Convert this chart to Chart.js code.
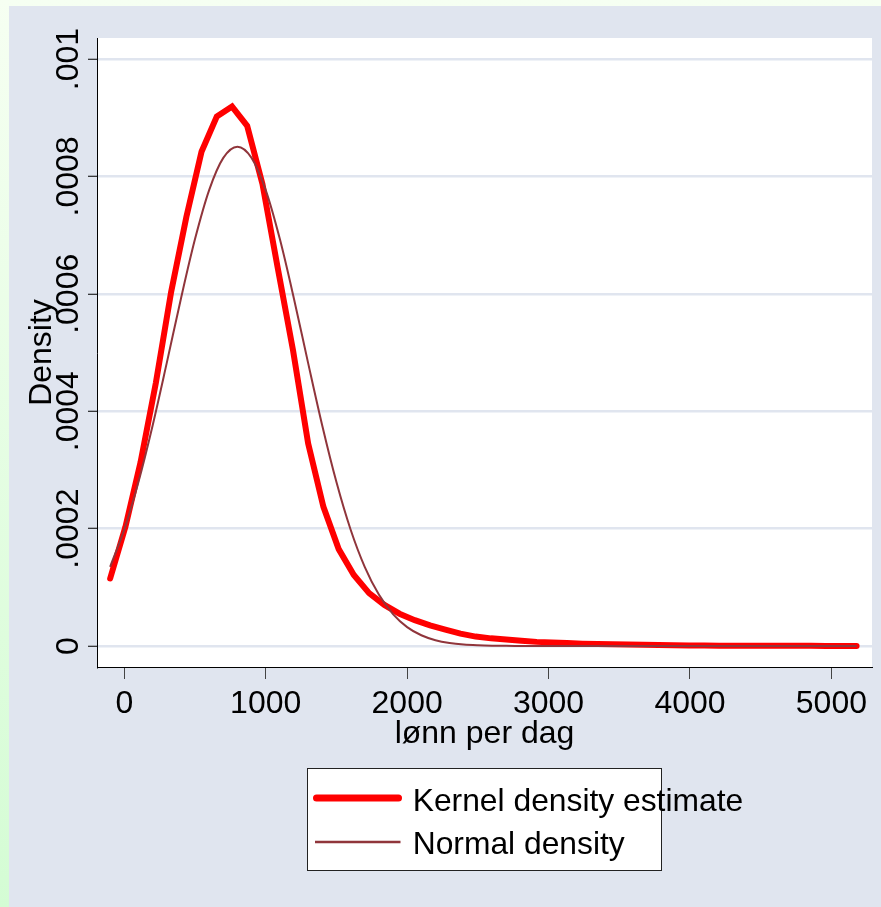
<!DOCTYPE html>
<html>
<head>
<meta charset="utf-8">
<script src="https://cdn.jsdelivr.net/npm/chart.js@4.4.1/dist/chart.umd.min.js"></script>
<style>html,body{margin:0;padding:0;background:#fff;}canvas{display:block;}</style>
</head>
<body>
<canvas id="c" width="881" height="907" style="width:881px;height:907px"></canvas>
<script>
// ---- data ----
const kdeX = [-100, 8, 115, 223, 331, 439, 546, 654, 762, 869,
  977, 1085, 1193, 1300, 1408, 1516, 1623, 1731, 1839, 1946,
  2054, 2162, 2270, 2377, 2485, 2593, 2700, 2808, 2916, 3024,
  3131, 3239, 3347, 3454, 3562, 3670, 3778, 3885, 3993, 4101,
  4208, 4316, 4424, 4532, 4639, 4747, 4855, 4962, 5070, 5178];
const kdeY = [0.000115, 0.000203, 0.000313, 0.000448, 0.000603, 0.000731, 0.000842, 0.000902, 0.000919, 0.000886,
  0.000787, 0.000644, 0.000504, 0.000345, 0.000237, 0.000165, 0.000121, 0.000090, 0.000070, 0.000055,
  0.000044, 0.000035, 0.000028, 0.000021, 0.000016, 0.000013, 0.000011, 0.000009, 0.000007, 0.000006,
  0.000005, 0.000004, 0.0000035, 0.000003, 0.0000025, 0.000002, 0.0000015, 0.0000012, 0.000001, 0.0000008,
  0.0000006, 0.0000005, 0.0000004, 0.0000003, 0.0000003, 0.0000002, 0.0000002, 0.0000001, 0.0000001, 0.0000001];
const normX = [-100, 0, 100, 200, 300, 400, 500, 600, 700, 800,
  900, 1000, 1100, 1200, 1300, 1400, 1500, 1600, 1700, 1800,
  1900, 2000, 2100, 2200, 2300, 2400, 2500, 2600, 2700, 2800,
  2900, 3000, 3200, 3400, 3600, 3800, 4000, 4200, 4400, 4600,
  4800, 5000, 5178];
const normY = [0.0001349, 0.0001985, 0.0002793, 0.0003753, 0.0004819, 0.0005913, 0.0006932, 0.0007767, 0.0008315, 0.0008506,
  0.0008315, 0.0007767, 0.0006932, 0.0005913, 0.0004819, 0.0003753, 0.0002793, 0.0001985, 0.0001349, 0.0000876,
  0.0000544, 0.0000322, 0.0000183, 0.0000099, 0.0000051, 0.0000025, 0.0000012, 0.0000005, 0.0000002, 0.0000001,
  0, 0, 0, 0, 0, 0, 0, 0, 0, 0,
  0, 0, 0];
const xTickValues = [0, 1000, 2000, 3000, 4000, 5000];
const xTickLabels = ["0", "1000", "2000", "3000", "4000", "5000"];
const yTickValues = [0, 0.0002, 0.0004, 0.0006, 0.0008, 0.001];
const yTickLabels = ["0", ".0002", ".0004", ".0006", ".0008", ".001"];
const seriesLabels = ["Kernel density estimate", "Normal density"];
const xTitle = "lønn per dag";
const yTitle = "Density";

// ---- styling ----
const FONT = '"Liberation Sans", Arial, Helvetica, sans-serif';
const RED = '#ff0000';
const MAROON = 'rgb(144,53,59)';
const BG = '#e0e5ef';

const bgPlugin = {
  id: 'bg',
  beforeDraw(chart) {
    const {ctx, width, height, chartArea: a} = chart;
    ctx.save();
    const g = ctx.createLinearGradient(0, 0, 0, height);
    g.addColorStop(0, '#f6fff2');
    g.addColorStop(1, '#d4fcd4');
    ctx.fillStyle = g;
    ctx.fillRect(0, 0, width, height);
    ctx.fillStyle = BG;
    ctx.fillRect(9, 6, width - 9, height - 6);
    ctx.fillStyle = '#ffffff';
    ctx.fillRect(a.left, a.top, a.right - a.left, a.bottom - a.top);
    ctx.restore();
  }
};

const yLabelPlugin = {
  id: 'ylabels',
  afterDraw(chart) {
    const s = chart.scales.y;
    const ctx = chart.ctx;
    ctx.save();
    ctx.font = '32px ' + FONT;
    ctx.fillStyle = '#000';
    ctx.textAlign = 'center';
    ctx.textBaseline = 'alphabetic';
    yTickValues.forEach((v, i) => {
      const py = s.getPixelForValue(v);
      ctx.save();
      ctx.translate(s.right - 18.7, py);
      ctx.rotate(-Math.PI / 2);
      ctx.fillText(yTickLabels[i], 0, 0);
      ctx.restore();
    });
    ctx.restore();
  }
};

const legendPlugin = {
  id: 'boxlegend',
  afterDraw(chart) {
    const ctx = chart.ctx;
    const ds = chart.data.datasets;
    ctx.save();
    ctx.fillStyle = '#ffffff';
    ctx.fillRect(307, 768, 355, 103);
    ctx.strokeStyle = '#222';
    ctx.lineWidth = 1;
    ctx.strokeRect(307.5, 768.5, 354, 102);
    const lineY = [798, 842];
    const textY = [811, 853.5];
    const x0 = [316.5, 315];
    const x1 = [398.5, 400.5];
    ds.forEach((d, i) => {
      ctx.beginPath();
      ctx.strokeStyle = d.borderColor;
      ctx.lineWidth = i === 0 ? 7 : 2.5;
      ctx.lineCap = i === 0 ? 'round' : 'butt';
      ctx.moveTo(x0[i], lineY[i]);
      ctx.lineTo(x1[i], lineY[i]);
      ctx.stroke();
      ctx.fillStyle = '#000';
      ctx.font = '31.8px ' + FONT;
      ctx.textAlign = 'left';
      ctx.textBaseline = 'alphabetic';
      ctx.fillText(d.label, 412.7, textY[i]);
    });
    ctx.restore();
  }
};

new Chart(document.getElementById('c'), {
  type: 'line',
  data: {
    datasets: [
      {
        label: seriesLabels[0],
        data: kdeX.map((x, i) => ({x: x, y: kdeY[i]})),
        borderColor: RED,
        borderWidth: 6,
        borderCapStyle: 'round',
        borderJoinStyle: 'miter',
        pointRadius: 0,
        fill: false,
        tension: 0,
        order: 1
      },
      {
        label: seriesLabels[1],
        data: normX.map((x, i) => ({x: x, y: normY[i]})),
        borderColor: MAROON,
        borderWidth: 2,
        pointRadius: 0,
        fill: false,
        cubicInterpolationMode: 'monotone',
        order: 0
      }
    ]
  },
  options: {
    responsive: false,
    animation: false,
    devicePixelRatio: 1,
    layout: {padding: {left: 0, top: 38, right: 9, bottom: 150}},
    plugins: {legend: {display: false}, tooltip: {enabled: false}},
    scales: {
      x: {
        type: 'linear',
        min: -193,
        max: 5287,
        afterBuildTicks: s => { s.ticks = xTickValues.map(v => ({value: v})); },
        afterFit: s => { s.height = 90; },
        ticks: {
          callback: (v, i) => xTickLabels[i],
          font: {family: FONT, size: 32},
          color: '#000',
          padding: 6,
          maxRotation: 0,
          minRotation: 0,
          autoSkip: false
        },
        grid: {drawOnChartArea: false, drawTicks: true, tickLength: 12, tickColor: '#444', tickWidth: 1},
        border: {display: true, color: '#000', width: 1},
        title: {display: true, text: xTitle, color: '#000', font: {family: FONT, size: 32, lineHeight: 1.2}, padding: {top: 0, bottom: 4}}
      },
      y: {
        type: 'linear',
        min: -0.0000358,
        max: 0.0010358,
        afterBuildTicks: s => { s.ticks = yTickValues.map(v => ({value: v})); },
        afterFit: s => { s.width = 97; },
        ticks: {display: false},
        grid: {color: BG, lineWidth: 2.5, drawTicks: true, tickLength: 9, tickColor: '#000', tickWidth: 1},
        border: {display: true, color: '#000', width: 1},
        title: {display: true, text: yTitle, color: '#000', font: {family: FONT, size: 32, lineHeight: 1.2}, padding: {top: 22.5, bottom: 0}}
      }
    }
  },
  plugins: [bgPlugin, yLabelPlugin, legendPlugin]
});
</script>
</body>
</html>
